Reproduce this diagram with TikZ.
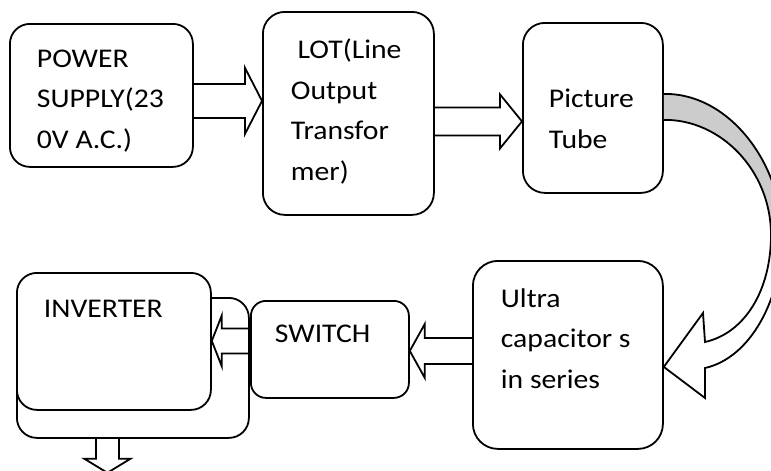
\documentclass[tikz,border=0pt]{standalone}
\usepackage{fontspec}
\setmainfont{Carlito}[FakeStretch=1.1]
\usetikzlibrary{calc, positioning}

\colorlet{bandshade}{black!20}

% fat arrow: tail, tip, half shaft width, half head width, head length
\newcommand{\blockarrow}[5]{%
  \path ($(#2)!#5!(#1)$) coordinate (hb);
  \draw[blockline]
    ($(#1)!#3!90:(#2)$) -- ($(hb)!#3!90:(#2)$) -- ($(hb)!#4!90:(#2)$) -- (#2)
    -- ($(hb)!#4!-90:(#2)$) -- ($(hb)!#3!-90:(#2)$) -- ($(#1)!#3!-90:(#2)$);%
}

\begin{document}
\begin{tikzpicture}
	[x=1pt, y=-1pt, line width=1.8pt,
	box/.style={draw, rounded corners=#1, anchor=north west, inner sep=0pt, fill=white},
	box/.default=20pt,
	txt/.style={anchor=base west, align=left, inner sep=0pt, font=\fontsize{27}{40.5}\selectfont},
	blockline/.style={line join=miter}]
	\useasboundingbox (0,0) rectangle (771,471);
	\clip (0,0) rectangle (771,471);
	% top row
	\node (psu) [box=20pt, minimum width=183pt, minimum height=143pt] at (9,23) {};
	\node (lot) [box=22pt, minimum width=171pt, minimum height=203pt] at (262,11) {};
	\node (tube) [box=22pt, minimum width=140pt, minimum height=170pt] at (522,22) {};
	% bottom row
	\node (ultra) [box=25pt, minimum width=190pt, minimum height=188pt] at (472,260) {};
	\node (switch) [box=15pt, minimum width=158pt, minimum height=97pt] at (250,300) {};
	\node (inv) [box=20pt, minimum width=232pt, minimum height=140pt] at (16,297) {};
	\node (invf) [box=20pt, minimum width=194pt, minimum height=137pt] at (16,272) {};
	% labels (base anchor sits on the last line)
	\node (psutxt) [txt] at ($(psu.north west)+(27,125)$) {POWER\\SUPPLY(23\\0V A.C.)};
	\node (lottxt) [txt] at ($(lot.north west)+(28,169)$) {\ LOT(Line\\Output\\Transfor\\mer)};
	\node (tubetxt) [txt] at ($(tube.north west)+(26,126)$) {Picture\\Tube};
	\node (ultratxt) [txt] at ($(ultra.north west)+(28,128)$) {Ultra\\capacitor s\\in series};
	\node (switchtxt) [txt] at ($(switch.north west)+(24,42)$) {SWITCH};
	\node (invtxt) [txt] at ($(invf.north west)+(27,45)$) {INVERTER};
	% straight arrows
	\coordinate (a1) at ($(psu.east)+(0,5.5)$);
	\coordinate (b1) at (lot.west |- a1);
	\blockarrow{a1}{b1}{17pt}{33pt}{17pt}
	\coordinate (a2) at ($(lot.east)+(0,8)$);
	\coordinate (b2) at (tube.west |- a2);
	\blockarrow{a2}{b2}{14pt}{27pt}{22pt}
	\coordinate (a3) at ($(ultra.west)+(0,-4)$);
	\coordinate (b3) at (switch.east |- a3);
	\blockarrow{a3}{b3}{13pt}{27pt}{15pt}
	\coordinate (a4) at ($(switch.west)+(0,-8.5)$);
	\coordinate (b4) at (invf.east |- a4);
	\blockarrow{a4}{b4}{12.5pt}{25.5pt}{10pt}
	\coordinate (a5) at ($(inv.south)+(-25.5,0)$);
	\coordinate (b5) at ($(a5)+(0,34)$);
	\blockarrow{a5}{b5}{11.5pt}{23pt}{14pt}
	% curved arrow from the tube down to the capacitors
	\coordinate (c0) at ($(tube.east)+(0,-14)$);
	\coordinate (c1) at ($(tube.east)+(0,12)$);
	\coordinate (ct) at ($(ultra.east)+(0,12)$);
	\fill[bandshade] (c0) .. controls (730,93) and (782,165) .. (782,235)
		-- (771,235) .. controls (771,170) and (720,119) .. (c1) -- cycle;
	\draw[blockline] (c0) .. controls (730,93) and (782,165) .. (782,235)
		.. controls (782,300) and (750,358) .. (705,368) -- (705,398) -- (ct)
		-- (703,313) -- (705,342) .. controls (745,333) and (771,290) .. (771,235)
		.. controls (771,170) and (720,119) .. (c1);
\end{tikzpicture}
\end{document}
